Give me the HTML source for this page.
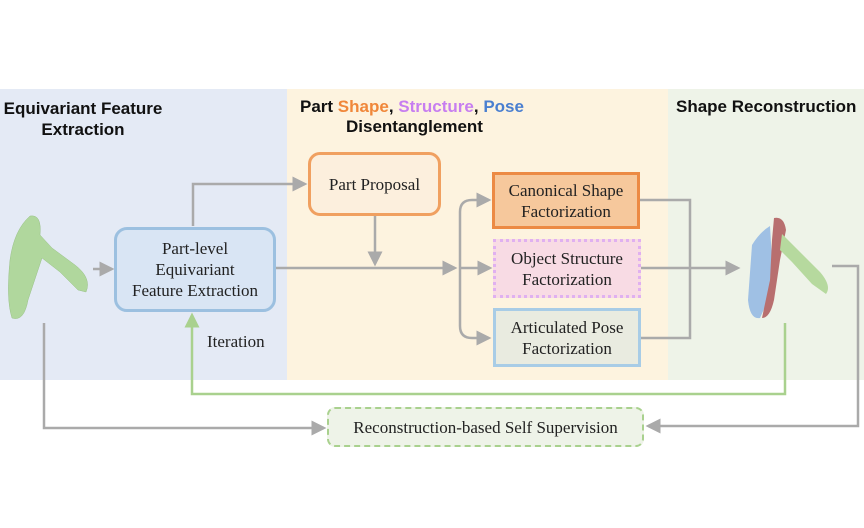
<!DOCTYPE html>
<html><head><style>
body{margin:0;width:864px;height:528px;background:#fff;overflow:hidden;position:relative;font-family:"Liberation Serif",serif}
.t{position:absolute;font-family:"Liberation Sans",sans-serif;font-weight:bold;font-size:17px;color:#111;text-align:center;line-height:21px}
.b{position:absolute;box-sizing:border-box;display:flex;align-items:center;justify-content:center;text-align:center;font-size:17px;line-height:21px;color:#222}
</style></head><body>
<div style="position:absolute;left:0;top:89px;width:287px;height:291px;background:#e4eaf5"></div>
<div style="position:absolute;left:287px;top:89px;width:381px;height:291px;background:#fdf3df"></div>
<div style="position:absolute;left:668px;top:89px;width:196px;height:291px;background:#eef3e8"></div>
<div class="t" style="left:0;top:98px;width:166px">Equivariant Feature<br>Extraction</div>
<div class="t" style="left:300px;top:96px;width:260px;text-align:left">Part <span style="color:#f0873a">Shape</span>, <span style="color:#c77ef0">Structure</span>, <span style="color:#4a7fd0">Pose</span></div>
<div class="t" style="left:346px;top:116px;width:180px;text-align:left">Disentanglement</div>
<div class="t" style="left:676px;top:96px;width:190px;text-align:left">Shape Reconstruction</div>
<svg width="864" height="528" style="position:absolute;left:0;top:0">
<defs><marker id="a" markerWidth="6" markerHeight="6" refX="5" refY="3" orient="auto"><path d="M0,0L6,3L0,6z" fill="#aaa"/></marker>
<marker id="g" markerWidth="6" markerHeight="6" refX="5" refY="3" orient="auto"><path d="M0,0L6,3L0,6z" fill="#a9d18e"/></marker></defs>
<g stroke="#aaa" stroke-width="2.5" fill="none">
<path d="M93,269H112" marker-end="url(#a)"/>
<path d="M193,226V184H305" marker-end="url(#a)"/>
<path d="M276,268H455" marker-end="url(#a)"/>
<path d="M375,216V264" marker-end="url(#a)"/>
<path d="M460,268V212Q460,200 472,200H489" marker-end="url(#a)"/>
<path d="M460,268H490" marker-end="url(#a)"/>
<path d="M460,268V326Q460,338 472,338H489" marker-end="url(#a)"/>
<path d="M640,200H690V338H641M641,268H738" marker-end="url(#a)"/>
<path d="M44,323V428H324" marker-end="url(#a)"/>
<path d="M832,266H858V426H648" marker-end="url(#a)"/>
</g>
<path d="M785,323V394H192V315" stroke="#a9d18e" stroke-width="2.5" fill="none" marker-end="url(#g)"/>
<g fill="#a8d48e" stroke="#8cba74" stroke-width="0.5">
<path d="M30,216 Q42,214 40,235 L52,248 L75,265 Q92,278 86,292 L78,290 L60,272 L42,258 L28,300 Q24,322 12,318 Q6,300 10,260 Q14,230 30,216z" opacity="0.85"/>
</g>
<g>
<path d="M770,226 Q760,232 752,245 L748,300 Q750,320 760,318 L768,300 L772,260z" fill="#9fc0e4"/>
<path d="M774,218 Q784,216 786,230 L780,260 L774,300 Q770,318 762,318 L770,280 L772,240z" fill="#b86f6f"/>
<path d="M782,234 L800,252 L820,272 Q832,286 826,294 L812,284 L792,262 L780,250z" fill="#b6d99e"/>
</g>
</svg>
<div class="b" style="left:114px;top:227px;width:162px;height:85px;background:#d9e5f4;border:3px solid #9cc0e0;border-radius:13px">Part-level<br>Equivariant<br>Feature Extraction</div>
<div style="position:absolute;left:207px;top:332px;font-size:17px;color:#222">Iteration</div>
<div class="b" style="left:308px;top:152px;width:133px;height:64px;background:#fcefdd;border:3px solid #f0a060;border-radius:12px">Part Proposal</div>
<div class="b" style="left:492px;top:172px;width:148px;height:57px;background:#f6c89c;border:3px solid #ec8a44">Canonical Shape<br>Factorization</div>
<div class="b" style="left:493px;top:239px;width:148px;height:59px;background:#f8dbe4;border:3px dotted #e0b0f0">Object Structure<br>Factorization</div>
<div class="b" style="left:493px;top:308px;width:148px;height:59px;background:#e9ebe0;border:3px solid #a8cce6">Articulated Pose<br>Factorization</div>
<div class="b" style="left:327px;top:407px;width:317px;height:40px;background:#eef3e8;border:2px dashed #a9d18e;border-radius:8px">Reconstruction-based Self Supervision</div>
</body></html>
